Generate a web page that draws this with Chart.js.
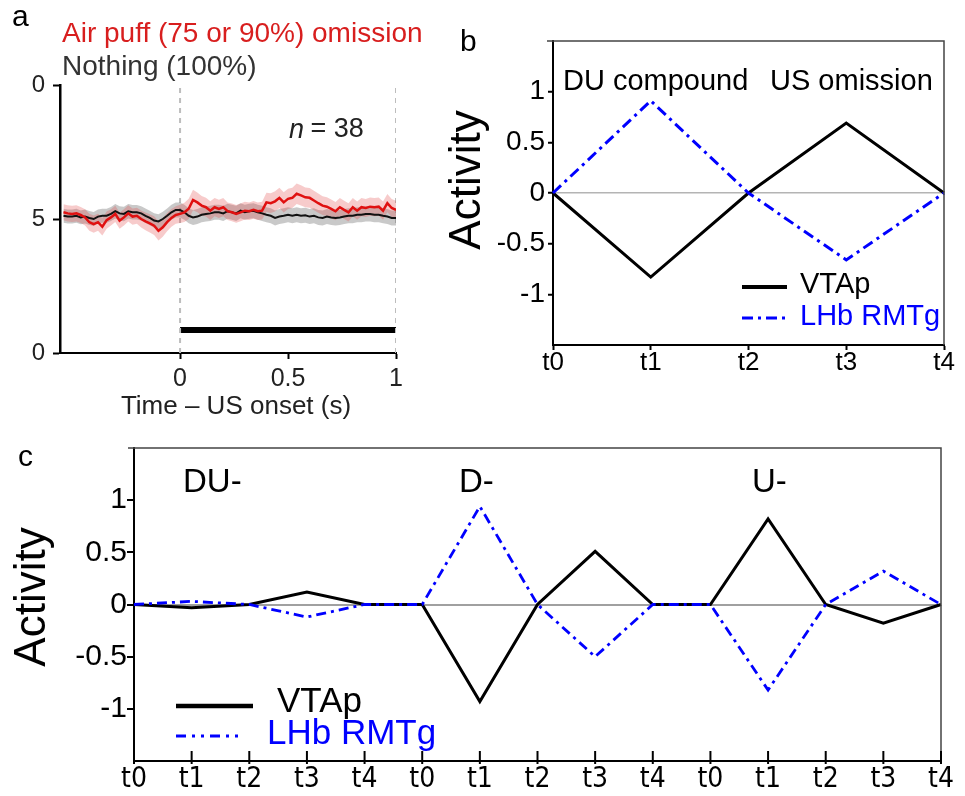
<!DOCTYPE html>
<html>
<head>
<meta charset="utf-8">
<script src="https://cdn.jsdelivr.net/npm/chart.js@4.4.1/dist/chart.umd.min.js"></script>
<style>
html,body{margin:0;padding:0;background:#fff;}
body{width:965px;height:796px;position:relative;overflow:hidden;}
canvas{position:absolute;}
</style>
</head>
<body>
<canvas id="chartA" width="470" height="430" style="left:0;top:0"></canvas>
<canvas id="chartB" width="525" height="400" style="left:440px;top:0"></canvas>
<canvas id="chartC" width="965" height="366" style="left:0;top:430px"></canvas>
<script>
// ---- panel a: mean traces around US onset ----
const timeS = [
  -0.54,-0.52,-0.50,-0.48,-0.46,-0.44,-0.42,-0.40,-0.38,-0.36,
  -0.34,-0.32,-0.30,-0.28,-0.26,-0.24,-0.22,-0.20,-0.18,-0.16,
  -0.14,-0.12,-0.10,-0.08,-0.06,-0.04,-0.02, 0.00, 0.02, 0.04,
   0.06, 0.08, 0.10, 0.12, 0.14, 0.16, 0.18, 0.20, 0.22, 0.24,
   0.26, 0.28, 0.30, 0.32, 0.34, 0.36, 0.38, 0.40, 0.42, 0.44,
   0.46, 0.48, 0.50, 0.52, 0.54, 0.56, 0.58, 0.60, 0.62, 0.64,
   0.66, 0.68, 0.70, 0.72, 0.74, 0.76, 0.78, 0.80, 0.82, 0.84,
   0.86, 0.88, 0.90, 0.92, 0.94, 0.96, 0.98, 1.00
];
const airPuffMean = [
  5.25,5.21,5.19,5.21,5.15,5.06,4.88,4.81,4.88,4.71,
  4.96,5.06,5.19,4.94,5.06,5.21,5.09,5.12,5.00,4.91,
  4.84,4.75,4.56,4.69,4.88,5.04,5.15,5.19,5.25,5.38,
  5.71,5.62,5.50,5.44,5.31,5.44,5.38,5.44,5.29,5.25,
  5.19,5.25,5.31,5.29,5.34,5.29,5.31,5.62,5.59,5.66,
  5.79,5.62,5.75,5.79,5.94,5.88,5.81,5.79,5.69,5.59,
  5.50,5.46,5.38,5.29,5.44,5.34,5.25,5.44,5.31,5.44,
  5.41,5.46,5.44,5.46,5.31,5.59,5.41,5.34
];
const airPuffSem = [
  0.30,0.30,0.30,0.30,0.30,0.30,0.32,0.32,0.32,0.33,
  0.32,0.30,0.30,0.30,0.30,0.30,0.30,0.30,0.32,0.33,
  0.34,0.35,0.36,0.35,0.34,0.33,0.33,0.34,0.36,0.38,
  0.38,0.37,0.36,0.35,0.35,0.34,0.34,0.34,0.33,0.33,
  0.33,0.33,0.33,0.33,0.33,0.33,0.33,0.36,0.37,0.38,
  0.38,0.38,0.38,0.38,0.38,0.38,0.37,0.37,0.36,0.36,
  0.35,0.35,0.35,0.34,0.34,0.34,0.34,0.34,0.34,0.34,
  0.34,0.34,0.34,0.34,0.34,0.34,0.34,0.34
];
const nothingMean = [
  5.12,5.09,5.09,5.12,5.06,5.09,5.04,5.00,5.09,5.12,
  5.12,5.19,5.29,5.21,5.19,5.29,5.25,5.25,5.21,5.12,
  5.04,4.94,4.91,5.00,5.12,5.25,5.34,5.34,5.25,5.12,
  5.06,5.09,5.16,5.19,5.21,5.25,5.25,5.21,5.29,5.25,
  5.21,5.31,5.25,5.29,5.31,5.25,5.21,5.16,5.12,5.04,
  5.09,5.12,5.16,5.12,5.16,5.12,5.14,5.09,5.12,5.06,
  5.04,5.09,5.06,5.04,5.06,5.09,5.12,5.12,5.16,5.16,
  5.19,5.19,5.16,5.16,5.12,5.09,5.04,5.04
];
const nothingSem = [
  0.26,0.26,0.26,0.26,0.26,0.26,0.26,0.26,0.26,0.26,
  0.26,0.26,0.27,0.27,0.27,0.27,0.27,0.27,0.27,0.27,
  0.27,0.27,0.27,0.27,0.27,0.28,0.28,0.28,0.28,0.28,
  0.28,0.28,0.28,0.28,0.28,0.28,0.28,0.28,0.28,0.28,
  0.28,0.28,0.28,0.28,0.28,0.28,0.28,0.28,0.28,0.28,
  0.28,0.28,0.28,0.28,0.28,0.28,0.28,0.28,0.28,0.28,
  0.28,0.28,0.28,0.28,0.28,0.28,0.28,0.28,0.28,0.28,
  0.28,0.28,0.28,0.28,0.28,0.28,0.28,0.28
];
const onsetMarks = [0, 1];          // dashed verticals (s)
const usBarSpan = [0, 1];           // black bar (s)
const usBarLevel = 0.86;
const aXTicks = [0, 0.5, 1];
const aYTicks = [0, 5, 10];
const aYLabels = ['0', '5', '0'];

// ---- panel b: model, DU compound ----
const tLabels = ['t0', 't1', 't2', 't3', 't4'];
const vtapB = [0, -0.83, 0, 0.69, 0];
const lhbB = [0, 0.91, 0, -0.66, 0];

// ---- panel c: DU-, D-, U- ----
const tLabelsC = ['t0','t1','t2','t3','t4','t0','t1','t2','t3','t4','t0','t1','t2','t3','t4'];
const vtapC = [0, -0.03, 0, 0.12, 0, 0, -0.93, 0, 0.51, 0, 0, 0.82, 0, -0.18, 0];
const lhbC = [0, 0.03, 0, -0.12, 0, 0, 0.94, 0, -0.50, 0, 0, -0.82, 0, 0.32, 0];
const actTicks = [-1, -0.5, 0, 0.5, 1];

const FONT = "'Liberation Sans', Arial, sans-serif";
const NARROW = "'Liberation Sans Narrow', 'DejaVu Sans Condensed', 'Liberation Sans', Arial, sans-serif";
const BLUE = '#0000ff';
Chart.defaults.font.family = FONT;
Chart.defaults.color = '#000';

// --- helpers ---
function pts(xs, ys){ return xs.map((x,i)=>({x:x, y:ys[i]})) }
function band(ys, es, sign){ return ys.map((y,i)=> y + sign*es[i]) }

function textPlugin(items){
  return {
    id:'texts',
    afterDraw(chart){
      const ctx = chart.ctx;
      items.forEach(t=>{
        ctx.save();
        ctx.font = t.font;
        ctx.fillStyle = t.color || '#000';
        ctx.textAlign = t.align || 'left';
        ctx.textBaseline = 'middle';
        ctx.translate(t.x, t.y);
        if(t.rot) ctx.rotate(t.rot);
        ctx.fillText(t.text, 0, 0);
        ctx.restore();
      });
    }
  }
}

// legend drawn inside plot, takes style from dataset
function legendPlugin(entries){
  return {
    id:'innerLegend',
    afterDraw(chart){
      const ctx = chart.ctx;
      entries.forEach(e=>{
        const ds = chart.data.datasets[e.ds];
        ctx.save();
        ctx.strokeStyle = ds.borderColor;
        ctx.lineWidth = e.lw;
        ctx.setLineDash(e.dash || ds.borderDash || []);
        ctx.beginPath(); ctx.moveTo(e.x1, e.y); ctx.lineTo(e.x2, e.y); ctx.stroke();
        ctx.setLineDash([]);
        ctx.font = e.font;
        ctx.fillStyle = e.color;
        ctx.textBaseline = 'middle';
        ctx.fillText(ds.label, e.tx, e.ty);
        ctx.restore();
      });
    }
  }
}

const boxPlugin = {
  id:'box',
  afterDraw(chart){
    const {ctx, chartArea:a} = chart;
    ctx.save();
    ctx.strokeStyle = '#444'; ctx.lineWidth = 1.5;
    ctx.beginPath();
    ctx.moveTo(a.left - 6, a.top); ctx.lineTo(a.right, a.top); ctx.lineTo(a.right, a.bottom);
    ctx.stroke();
    ctx.restore();
  }
};

// tick marks pointing up into the plot (panel c x axis)
const innerTicks = {
  id:'innerTicks',
  afterDraw(chart){
    const {ctx, chartArea:a} = chart;
    const sx = chart.scales.x;
    ctx.save();
    ctx.strokeStyle = '#000'; ctx.lineWidth = 2;
    sx.ticks.forEach((t,i)=>{
      const px = sx.getPixelForTick(i);
      ctx.beginPath(); ctx.moveTo(px, a.bottom + 3); ctx.lineTo(px, a.bottom - 10); ctx.stroke();
    });
    ctx.restore();
  }
};

function fixedTicks(vals){ return axis => { axis.ticks = vals.map(v=>({value:v})) } }

// ---------------- panel a ----------------
new Chart(document.getElementById('chartA'), {
  type:'line',
  data:{
    datasets:[
      {label:'Air puff', data:pts(timeS, airPuffMean), borderColor:'#e01010', borderWidth:2.5, pointRadius:0, order:1},
      {label:'Nothing', data:pts(timeS, nothingMean), borderColor:'#111', borderWidth:2, pointRadius:0, order:2},
      {label:'ap hi', data:pts(timeS, band(airPuffMean, airPuffSem, 1)), borderWidth:0, pointRadius:0, fill:'+1', backgroundColor:'rgba(225,70,70,0.28)', order:3},
      {label:'ap lo', data:pts(timeS, band(airPuffMean, airPuffSem, -1)), borderWidth:0, pointRadius:0, order:4},
      {label:'no hi', data:pts(timeS, band(nothingMean, nothingSem, 1)), borderWidth:0, pointRadius:0, fill:'+1', backgroundColor:'rgba(120,120,120,0.40)', order:5},
      {label:'no lo', data:pts(timeS, band(nothingMean, nothingSem, -1)), borderWidth:0, pointRadius:0, order:6},
      {label:'m0', data:[{x:onsetMarks[0],y:aYTicks[0]},{x:onsetMarks[0],y:aYTicks[2]}], borderColor:'#bdbdbd', borderWidth:2, borderDash:[5,5], pointRadius:0, order:7},
      {label:'m1', data:[{x:onsetMarks[1],y:aYTicks[0]},{x:onsetMarks[1],y:aYTicks[2]}], borderColor:'#bdbdbd', borderWidth:2, borderDash:[5,5], pointRadius:0, order:8},
      {label:'US', data:[{x:usBarSpan[0],y:usBarLevel},{x:usBarSpan[1],y:usBarLevel}], borderColor:'#000', borderWidth:6, borderCapStyle:'butt', pointRadius:0, order:9}
    ]
  },
  options:{
    responsive:false, animation:false, devicePixelRatio:1,
    layout:{padding:{left:0, top:85, right:74, bottom:0}},
    plugins:{legend:{display:false}, tooltip:{enabled:false}},
    scales:{
      x:{type:'linear', min:-0.556, max:1,
        afterBuildTicks:fixedTicks(aXTicks),
        afterFit:s=>{ s.height = 77 },
        border:{color:'#000', width:2},
        grid:{drawOnChartArea:false, tickLength:6, tickColor:'#000', tickWidth:2},
        ticks:{font:{size:25, lineHeight:1}, color:'#222', padding:8, maxRotation:0, callback:v=>String(v)}},
      y:{min:0, max:10,
        afterBuildTicks:fixedTicks(aYTicks),
        afterFit:s=>{ s.width = 60 },
        border:{color:'#000', width:2.5},
        grid:{drawOnChartArea:false, tickLength:7, tickColor:'#000', tickWidth:2},
        ticks:{font:{size:24, lineHeight:1}, color:'#222', padding:8, callback:(v,i)=>aYLabels[i]}}
    }
  },
  plugins:[textPlugin([
    {text:'a', x:12, y:18, font:'30px '+FONT},
    {text:'Air puff (75 or 90%) omission', x:62, y:34, font:'28px '+FONT, color:'#d81e1e'},
    {text:'Nothing (100%)', x:62, y:67, font:'28px '+FONT, color:'#333'},
    {text:'n', x:289, y:130, font:'italic 27px '+FONT, color:'#222'},
    {text:' = 38', x:303, y:130, font:'27px '+FONT, color:'#222'},
    {text:'Time \u2013 US onset (s)', x:236, y:407, font:'26px '+FONT, color:'#222', align:'center'}
  ])]
});

// ---------------- panel b ----------------
new Chart(document.getElementById('chartB'), {
  type:'line',
  data:{
    labels:tLabels,
    datasets:[
      {label:'VTAp', data:vtapB, borderColor:'#000', borderWidth:3, pointRadius:0, order:2},
      {label:'LHb RMTg', data:lhbB, borderColor:BLUE, borderWidth:3, borderDash:[11,5,3,5], pointRadius:0, order:1}
    ]
  },
  options:{
    responsive:false, animation:false, devicePixelRatio:1,
    layout:{padding:{left:0, top:41, right:21, bottom:0}},
    plugins:{legend:{display:false}, tooltip:{enabled:false}},
    scales:{
      x:{offset:false,
        afterFit:s=>{ s.height = 55 },
        border:{color:'#000', width:2},
        grid:{drawOnChartArea:false, tickLength:5, tickColor:'#000', tickWidth:2},
        ticks:{font:{size:26, lineHeight:1}, padding:0, maxRotation:0, autoSkip:false}},
      y:{min:-1.5, max:1.5,
        afterBuildTicks:fixedTicks(actTicks),
        afterFit:s=>{ s.width = 113 },
        border:{color:'#000', width:2},
        grid:{color:c=>c.tick && c.tick.value===0 ? '#b4b4b4' : 'rgba(0,0,0,0)', lineWidth:1.5, tickLength:5, tickColor:'#000', tickWidth:2},
        ticks:{font:{size:28, lineHeight:1}, padding:3, callback:v=>String(v)}}
    }
  },
  plugins:[boxPlugin,
    textPlugin([
      {text:'b', x:20, y:43, font:'30px '+FONT},
      {text:'DU compound', x:123, y:82, font:'29px '+FONT},
      {text:'US omission', x:330, y:82, font:'29px '+FONT},
      {text:'Activity', x:28, y:180, font:'44px '+FONT, align:'center', rot:-Math.PI/2}
    ]),
    legendPlugin([
      {ds:0, x1:302, x2:347, y:287, lw:4, tx:360, ty:285, font:'29px '+FONT, color:'#000'},
      {ds:1, x1:302, x2:347, y:318, lw:3, tx:360, ty:317, font:'29px '+FONT, color:BLUE}
    ])]
});

// ---------------- panel c ----------------
new Chart(document.getElementById('chartC'), {
  type:'line',
  data:{
    labels:tLabelsC,
    datasets:[
      {label:'VTAp', data:vtapC, borderColor:'#000', borderWidth:3, pointRadius:0, order:2},
      {label:'LHb RMTg', data:lhbC, borderColor:BLUE, borderWidth:2.8, borderDash:[10,5,3,5], pointRadius:0, order:1}
    ]
  },
  options:{
    responsive:false, animation:false, devicePixelRatio:1,
    layout:{padding:{left:0, top:18, right:24, bottom:0}},
    plugins:{legend:{display:false}, tooltip:{enabled:false}},
    scales:{
      x:{offset:false,
        afterFit:s=>{ s.height = 35 },
        border:{color:'#000', width:2},
        grid:{drawOnChartArea:false, drawTicks:false},
        ticks:{font:{size:28, lineHeight:1, family:NARROW}, padding:5, maxRotation:0, autoSkip:false}},
      y:{min:-1.5, max:1.5,
        afterBuildTicks:fixedTicks(actTicks),
        afterFit:s=>{ s.width = 134 },
        border:{color:'#000', width:2},
        grid:{color:c=>c.tick && c.tick.value===0 ? '#a0a0a0' : 'rgba(0,0,0,0)', lineWidth:2, tickLength:7, tickColor:'#000', tickWidth:2},
        ticks:{font:{size:30, lineHeight:1}, padding:0, callback:v=>String(v)}}
    }
  },
  plugins:[boxPlugin, innerTicks,
    textPlugin([
      {text:'c', x:18, y:28, font:'30px '+FONT},
      {text:'DU-', x:183, y:53, font:'33px '+FONT},
      {text:'D-', x:459, y:53, font:'33px '+FONT},
      {text:'U-', x:752, y:53, font:'33px '+FONT},
      {text:'Activity', x:33, y:167, font:'44px '+FONT, align:'center', rot:-Math.PI/2}
    ]),
    legendPlugin([
      {ds:0, x1:176, x2:253, y:276, lw:4.5, tx:277, ty:272, font:'35px '+FONT, color:'#000'},
      {ds:1, x1:176, x2:242, y:306, lw:3, dash:[10,6,3,6,3,6], tx:267, ty:304, font:'35px '+FONT, color:BLUE}
    ])]
});
</script>
</body>
</html>
